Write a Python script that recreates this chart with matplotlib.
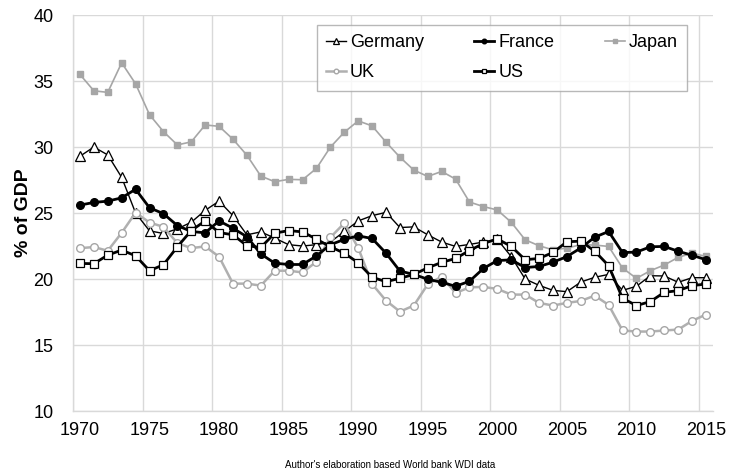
import numpy as np
import matplotlib
matplotlib.use("Agg")
import matplotlib.pyplot as plt

plt.rcParams['font.family'] = ['Liberation Sans', 'DejaVu Sans']

years = np.arange(1970, 2016)

germany = [29.3, 30.0, 29.4, 27.7, 25.0, 23.65, 23.45, 23.8, 24.3, 25.2,
           25.9, 24.8, 23.35, 23.57, 23.1, 22.6, 22.5, 22.6, 22.8, 23.6,
           24.4, 24.8, 25.05, 23.9, 23.95, 23.35, 22.8, 22.47, 22.62, 22.8,
           23.0, 21.7, 20.0, 19.52, 19.14, 19.04, 19.77, 20.13, 20.35, 19.14,
           19.45, 20.25, 20.23, 19.75, 20.1, 20.1]
france = [25.6, 25.8, 25.9, 26.15, 26.8, 25.4, 24.95, 24.05, 23.6, 23.5,
          24.4, 23.85, 23.2, 21.9, 21.2, 21.1, 21.1, 21.75, 22.6, 23.0,
          23.27, 23.07, 21.96, 20.6, 20.35, 19.98, 19.75, 19.45, 19.83, 20.8,
          21.4, 21.45, 20.87, 20.95, 21.27, 21.7, 22.35, 23.17, 23.6, 22.0,
          22.04, 22.44, 22.47, 22.1, 21.8, 21.46]
japan = [35.5, 34.26, 34.14, 36.38, 34.79, 32.45, 31.17, 30.16, 30.39, 31.67,
         31.57, 30.59, 29.38, 27.8, 27.37, 27.55, 27.52, 28.38, 29.99, 31.12,
         31.98, 31.6, 30.37, 29.23, 28.25, 27.77, 28.15, 27.57, 25.83, 25.49,
         25.23, 24.3, 22.97, 22.52, 22.21, 22.34, 22.6, 22.57, 22.47, 20.83,
         20.05, 20.63, 21.06, 21.64, 21.96, 21.71]
uk = [22.34, 22.42, 22.14, 23.5, 25.03, 24.28, 23.95, 22.72, 22.34, 22.47,
      21.69, 19.65, 19.65, 19.5, 20.63, 20.63, 20.5, 21.31, 23.15, 24.23,
      22.36, 19.62, 18.36, 17.53, 17.99, 19.6, 20.18, 18.94, 19.37, 19.4,
      19.25, 18.82, 18.82, 18.19, 17.99, 18.19, 18.34, 18.74, 18.04, 16.1,
      16.02, 16.02, 16.1, 16.17, 16.83, 17.31]
us = [21.18, 21.16, 21.81, 22.19, 21.76, 20.63, 21.08, 22.44, 23.67, 24.4,
      23.52, 23.35, 22.52, 22.39, 23.47, 23.67, 23.57, 23.02, 22.44, 21.96,
      21.23, 20.13, 19.8, 20.05, 20.35, 20.85, 21.26, 21.56, 22.16, 22.69,
      23.04, 22.47, 21.46, 21.56, 22.01, 22.82, 22.87, 22.11, 21.01, 18.54,
      17.99, 18.29, 18.99, 19.12, 19.5, 19.62]

tick_years = np.arange(1970, 2016, 5)

fig = plt.figure(figsize=(7.32, 4.74), dpi=100)
ax = fig.add_axes([0.0997, 0.1329, 0.8743, 0.8354])

# points sit in the middle of each year slot
x = years + 0.5

grid_c = '#d9d9d9'
h_ge, = ax.plot(x, germany, color='black', lw=1.0, marker='^', ms=6.5,
                mfc='white', mec='black', mew=0.9, label='Germany', zorder=3)
h_ja, = ax.plot(x, japan, color='#a6a6a6', lw=1.2, marker='s', ms=5,
                mfc='#a6a6a6', mec='#a6a6a6', label='Japan', zorder=3)
h_uk, = ax.plot(x, uk, color='#b0b0b0', lw=1.8, marker='o', ms=5.5,
                mfc='white', mec='#a6a6a6', mew=1.0, label='UK', zorder=3)
h_fr, = ax.plot(x, france, color='black', lw=2.0, marker='o', ms=5.5,
                mfc='black', mec='black', label='France', zorder=4)
h_us, = ax.plot(x, us, color='black', lw=2.0, marker='s', ms=6,
                mfc='white', mec='black', mew=0.9, label='US', zorder=4)

ax.set_xlim(1970, 2016)
ax.set_ylim(10, 40)
ax.set_yticks(np.arange(10, 41, 5))
ax.set_xticks(tick_years + 0.5)
ax.set_xticklabels([str(t) for t in tick_years])
ax.set_xticks(tick_years, minor=True)
ax.tick_params(axis='both', which='both', length=0, labelsize=13, pad=8)
ax.tick_params(axis='y', pad=14)
ax.grid(False)
ax.grid(True, which='minor', axis='x', color=grid_c, lw=1.0)
ax.grid(True, which='major', axis='y', color=grid_c, lw=1.0)
ax.set_axisbelow(True)
for s in ['top', 'right']:
    ax.spines[s].set_visible(False)
for s in ['left', 'bottom']:
    ax.spines[s].set_color(grid_c)
    ax.spines[s].set_linewidth(1.0)

ax.set_ylabel('% of GDP', fontsize=14, fontweight='bold', labelpad=1)

leg = ax.legend(handles=[h_ge, h_uk, h_fr, h_us, h_ja], ncol=3,
                loc='upper left', bbox_to_anchor=(0.381, 0.0, 0.578, 0.975),
                mode='expand', borderaxespad=0, fontsize=13, frameon=True,
                fancybox=False, handlelength=1.1, handletextpad=0.22,
                columnspacing=1.75, borderpad=0.5, labelspacing=0.75,
                markerscale=0.6)
leg.get_frame().set_edgecolor('#a6a6a6')
leg.get_frame().set_linewidth(1.0)

fig.text(0.533, 0.008, "Author's elaboration based World bank WDI data",
         ha='center', va='bottom', fontsize=7)

fig.savefig('out.png', dpi=100)
